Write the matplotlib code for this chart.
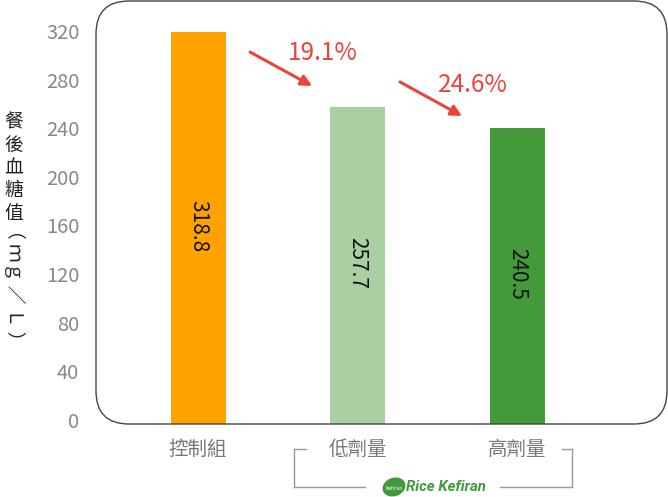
import matplotlib
matplotlib.use("Agg")
import matplotlib.pyplot as plt
from matplotlib.patches import FancyBboxPatch, Ellipse
from matplotlib.lines import Line2D
from matplotlib.transforms import IdentityTransform

plt.rcParams['font.family'] = ['Noto Sans CJK TC', 'DejaVu Sans']

# 資料
groups = ['控制組', '低劑量', '高劑量']
values = [318.8, 257.7, 240.5]
drops = ['19.1%', '24.6%']
colors = ['#ffa200', '#a9cfa3', '#449a3a']
yticks = [0, 40, 80, 120, 160, 200, 240, 280, 320]

# 箭頭 (起點, 終點, 文字位置)，資料座標
arrow_from = [(0.326, 302.6), (1.266, 278.0)]
arrow_to = [(0.715, 274.7), (1.655, 250.0)]
label_at = [(0.784, 301.8), (1.724, 275.5)]

W, H = 668, 497
fig = plt.figure(figsize=(W / 100, H / 100), dpi=100)
ax = fig.add_axes([96 / W, 73 / H, 571 / W, 423 / H])

ymin = -3.3
x = list(range(len(groups)))
ax.bar(x, [v - ymin for v in values], bottom=ymin, width=0.345, color=colors, zorder=2)
ax.set_xlim(-0.64, 2.94)
ax.set_ylim(ymin, 344.6)
ax.set_yticks(yticks)
ax.set_yticklabels([str(t) for t in yticks], fontsize=14.5, color='#888888')
ax.set_xticks(x)
ax.set_xticklabels(groups, fontsize=14, color='#777777')
ax.tick_params(axis='y', length=0, pad=12)
ax.tick_params(axis='x', length=0, pad=11)
for s in ax.spines.values():
    s.set_visible(False)
ax.patch.set_visible(False)

# 柱內數值
for i, v in enumerate(values):
    ax.text(i, v / 2, f'{v:.1f}', rotation=-90, ha='center', va='center',
            fontsize=15, color='#111111')

# 下降箭頭
red = '#e8453c'
for i, lab in enumerate(drops):
    ax.annotate('', xy=arrow_to[i], xytext=arrow_from[i],
                arrowprops=dict(arrowstyle='-|>', color=red, lw=2.2, mutation_scale=16,
                                shrinkA=0, shrinkB=0))
    ax.text(label_at[i][0], label_at[i][1], lab, ha='center', va='center',
            fontsize=17.5, color=red)

# 圓角外框
box = FancyBboxPatch((96, 73), 571, 423, boxstyle='round,pad=0,rounding_size=33',
                     transform=IdentityTransform(), fill=False, ec='#444444', lw=1.0)
fig.patches.append(box)

# y 軸標題
fig.text(14, H - 168, '餐\n後\n血\n糖\n值', transform=IdentityTransform(), ha='center', va='center',
         fontsize=13.5, linespacing=1.12, color='#222222')
fig.text(15, H - 285, '（ ｍｇ ／ Ｌ ）', transform=IdentityTransform(), ha='center', va='center',
         rotation=-90, fontsize=13.5, color='#222222')

# 括號線
gray = '#999999'
segs = [([294, 306], [449, 449]), ([294, 294], [449, 487]), ([294, 365], [487, 487]),
        ([562, 572], [449, 449]), ([572, 572], [449, 487]), ([500, 572], [487, 487])]
for xs, ys in segs:
    fig.lines.append(Line2D(xs, [H - y for y in ys], transform=IdentityTransform(),
                            color=gray, lw=1.0))

# logo
green = '#3e9a3a'
fig.patches.append(Ellipse((394, H - 487), 22, 17, angle=20, transform=IdentityTransform(),
                           color=green))
fig.text(394, H - 488, 'Kefiran', transform=IdentityTransform(), ha='center', va='center',
         fontsize=3.5, color='white', family='DejaVu Sans')
fig.text(406, H - 487, 'Rice Kefiran', transform=IdentityTransform(), ha='left', va='center',
         fontsize=10.8, color=green, fontweight='bold', style='italic', family='Roboto')

fig.savefig('out.png', dpi=100)
